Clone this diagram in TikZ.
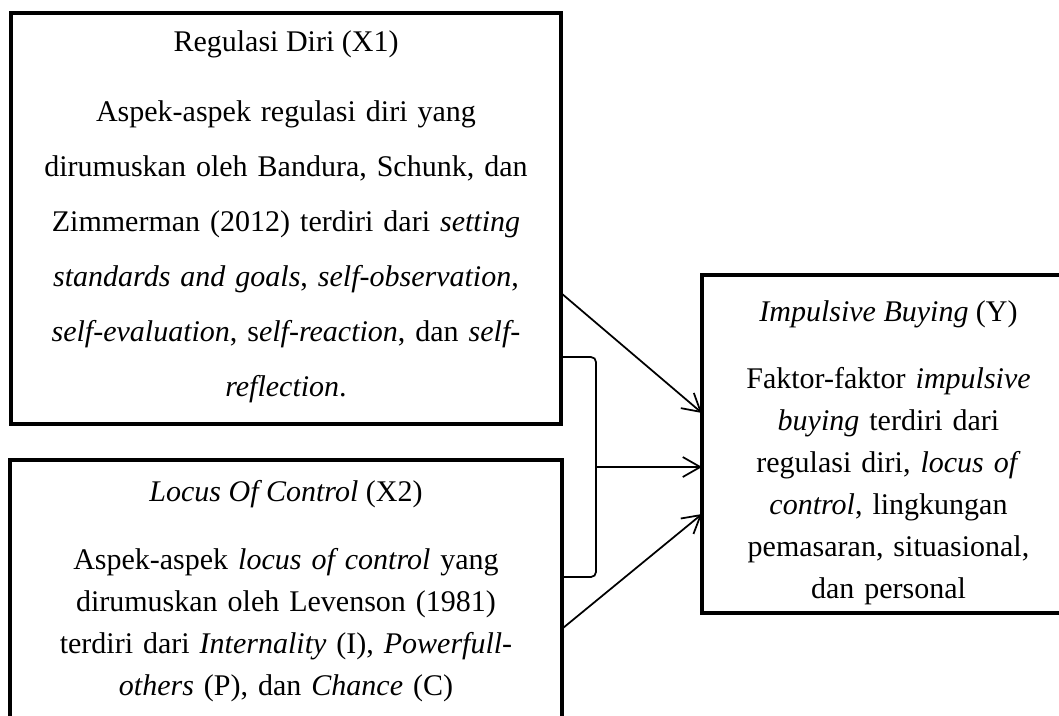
\documentclass[tikz,border=0pt]{standalone}
\usepackage{fontspec}
\setmainfont{Liberation Serif}
\usetikzlibrary{arrows.meta,calc}
\tikzset{
	varbox/.style={draw, line width=1.6pt, inner sep=0, outer sep=0},
	boxtitle/.style={inner sep=0, outer sep=0, anchor=base},
	boxbody/.style={inner sep=0, outer sep=0, anchor=north, align=center, text width=#1},
	wide/.style={font=\fontsize{12}{22}\selectfont},
	narrow/.style={font=\fontsize{12}{16.8}\selectfont},
	link/.style={line width=0.7pt, -{Straight Barb[length=7pt,width=8pt,line width=0.7pt]}},
	bracket/.style={line width=0.7pt, rounded corners=2pt}
}

\begin{document}
\begin{tikzpicture}[x=0.4pt, y=-0.4pt, font=\fontsize{12}{14}\selectfont]
	\useasboundingbox (0,0) rectangle (1059,715);
	% boxes
	\node[varbox, minimum width=220pt, minimum height=164.4pt] (x1) at (286,218.5) {};
	\node[varbox, minimum width=220.8pt, minimum height=120pt] (x2) at (286,610) {};
	\node[varbox, minimum width=149.2pt, minimum height=135.2pt] (y) at (888.5,444) {};
	% texts
	\node[boxtitle] (x1t) at (286,51) {Regulasi Diri (X1)};
	\node[boxbody=210pt, wide] (x1b) at (286,101) {Aspek-aspek regulasi diri yang\\
		dirumuskan oleh Bandura, Schunk, dan\\
		Zimmerman (2012) terdiri dari \textit{setting}\\
		\textit{standards and goals}, \textit{self-observation},\\
		\textit{self-evaluation}, s\textit{elf-reaction}, dan \textit{self-}\\
		\textit{reflection}.};
	\node[boxtitle] (x2t) at (286,501) {\textit{Locus Of Control} (X2)};
	\node[boxbody=210pt, narrow] (x2b) at (286,548) {Aspek-aspek \textit{locus of control} yang\\
		dirumuskan oleh Levenson (1981)\\
		terdiri dari \textit{Internality} (I), \textit{Powerfull-}\\
		\textit{others} (P), dan \textit{Chance} (C)};
	\node[boxtitle] (yt) at (888.5,321) {\textit{Impulsive Buying} (Y)};
	\node[boxbody=140pt, narrow] (yb) at (888.5,367) {Faktor-faktor \textit{impulsive}\\
		\textit{buying} terdiri dari\\
		regulasi diri, \textit{locus of}\\
		\textit{control}, lingkungan\\
		pemasaran, situasional,\\
		dan personal};
	% connectors
	\coordinate (x1out) at (561,293);
	\coordinate (x2out) at (563,628);
	\coordinate (brtop) at (563,357);
	\coordinate (brbot) at (563,577);
	\coordinate (brmid) at (596,467);
	\coordinate (yin1) at (702,413);
	\coordinate (yin2) at (702,467);
	\coordinate (yin3) at (702,514);
	\draw[bracket] (brtop) -- (brtop -| brmid) -- (brbot -| brmid) -- (brbot);
	\draw[link] (x1out) -- (yin1);
	\draw[link] (brmid) -- (yin2);
	\draw[link] (x2out) -- (yin3);
\end{tikzpicture}
\end{document}
